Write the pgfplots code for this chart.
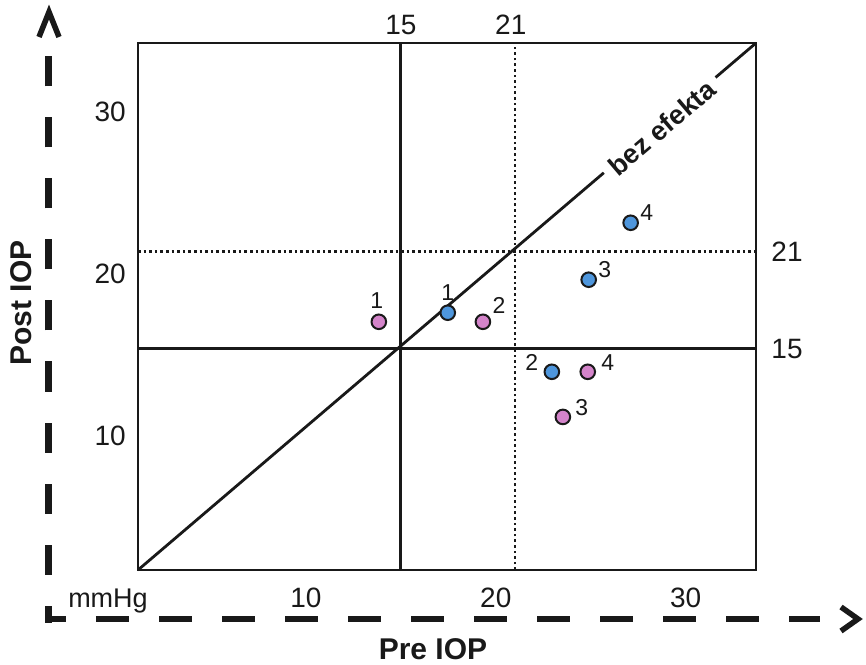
\documentclass[border=0pt]{standalone}
\usepackage{pgfplots}
\pgfplotsset{compat=1.18}
\usepackage{fontspec}
\setmainfont{Liberation Sans}
\definecolor{ptblue}{RGB}{78,150,220}
\definecolor{ptpink}{RGB}{212,132,202}
\definecolor{ink}{RGB}{25,25,25}
\begin{document}
\begin{tikzpicture}
\begin{axis}[scale only axis,
  width=618pt, height=527pt,
  xmin=1.16, xmax=33.7, ymin=1.33, ymax=33.9,
  axis line style={ink, line width=1.8pt},
  xtick={10,20,30}, ytick={10,20,30},
  major tick length=0pt,
  /pgf/number format/assume math mode=true,
  tick label style={font=\fontsize{28}{30}\selectfont, text=ink, inner sep=0pt},
  xticklabel style={anchor=base, yshift=-37pt},
  yticklabel style={anchor=base east, xshift=-12pt, yshift=-15.5pt},
  clip=false]
\coordinate (O) at (rel axis cs:0,0);
\addplot[ink, line width=2.8pt] coordinates {(1.16,1.33) (33.7,33.9)};
\addplot[ink, line width=2.8pt] coordinates {(15,1.33) (15,33.9)};
\addplot[ink, line width=2.8pt] coordinates {(1.16,15) (33.7,15)};
\addplot[ink, line width=2.6pt, dash pattern=on 2.6pt off 3pt] coordinates {(21,1.33) (21,33.9)};
\addplot[ink, line width=2.6pt, dash pattern=on 2.6pt off 3pt] coordinates {(1.16,21) (33.7,21)};
\node[rotate=40.4, fill=white, inner xsep=8pt, inner ysep=2pt, text=ink,
  font=\bfseries\fontsize{27}{29}\selectfont] at (axis cs:28.74,28.67) {bez efekta};
% blue points
\addplot[only marks, mark=*, mark size=7.3pt, mark options={draw=ink, line width=2pt, fill=ptblue}]
  coordinates {(17.47,17.23) (22.95,13.58) (24.89,19.27) (27.1,22.79)};
% pink points
\addplot[only marks, mark=*, mark size=7.3pt, mark options={draw=ink, line width=2pt, fill=ptpink}]
  coordinates {(13.84,16.67) (19.32,16.67) (23.53,10.79) (24.84,13.58)};
\tikzset{lab/.style={font=\fontsize{23}{25}\selectfont, text=ink, inner sep=0pt}}
\node[lab, yshift=20pt] at (axis cs:17.47,17.23) {1};
\node[lab, xshift=-20pt, yshift=9pt] at (axis cs:22.95,13.58) {2};
\node[lab, xshift=16pt, yshift=10pt] at (axis cs:24.89,19.27) {3};
\node[lab, xshift=16pt, yshift=10pt] at (axis cs:27.1,22.79) {4};
\node[lab, xshift=-2pt, yshift=21pt] at (axis cs:13.84,16.67) {1};
\node[lab, xshift=16pt, yshift=16pt] at (axis cs:19.32,16.67) {2};
\node[lab, xshift=19pt, yshift=9pt] at (axis cs:23.53,10.79) {3};
\node[lab, xshift=20pt, yshift=9pt] at (axis cs:24.84,13.58) {4};
% top and right reference labels
\tikzset{ref/.style={font=\fontsize{28}{30}\selectfont, text=ink, inner sep=0pt}}
\node[ref, yshift=18pt] at (axis cs:15,33.9) {15};
\node[ref, xshift=-4pt, yshift=18pt] at (axis cs:21,33.9) {21};
\node[ref, xshift=31pt] at (axis cs:33.7,21) {21};
\node[ref, xshift=31pt] at (axis cs:33.7,15) {15};
\end{axis}
\pgfresetboundingbox
\begin{scope}[shift={(O)}, xshift=-138pt, yshift=-94pt, x=1pt, y=1pt]
\useasboundingbox (0,0) rectangle (866,664);
% dashed axes
\draw[ink, line width=7pt, dash pattern=on 30pt off 31pt, dash phase=13pt] (49,41.5) -- (49,609);
\draw[ink, line width=6.5pt, dash pattern=on 33pt off 30pt, dash phase=12.5pt] (45.5,45) -- (820,45);
\draw[ink, line width=5.5pt, line join=miter] (39,627) -- (49,652) -- (59,627);
\draw[ink, line width=5.5pt, line join=miter] (841,57) -- (858,45) -- (841,33);
\node[anchor=base, inner sep=0pt, text=ink, font=\fontsize{27}{30}\selectfont] at (108,57) {mmHg};
\node[anchor=base, inner sep=0pt, text=ink, font=\bfseries\fontsize{30}{32}\selectfont] at (433,5) {Pre IOP};
\node[anchor=base, rotate=90, inner sep=0pt, text=ink, font=\bfseries\fontsize{30}{32}\selectfont] at (32,361) {Post IOP};
\end{scope}
\end{tikzpicture}
\end{document}
